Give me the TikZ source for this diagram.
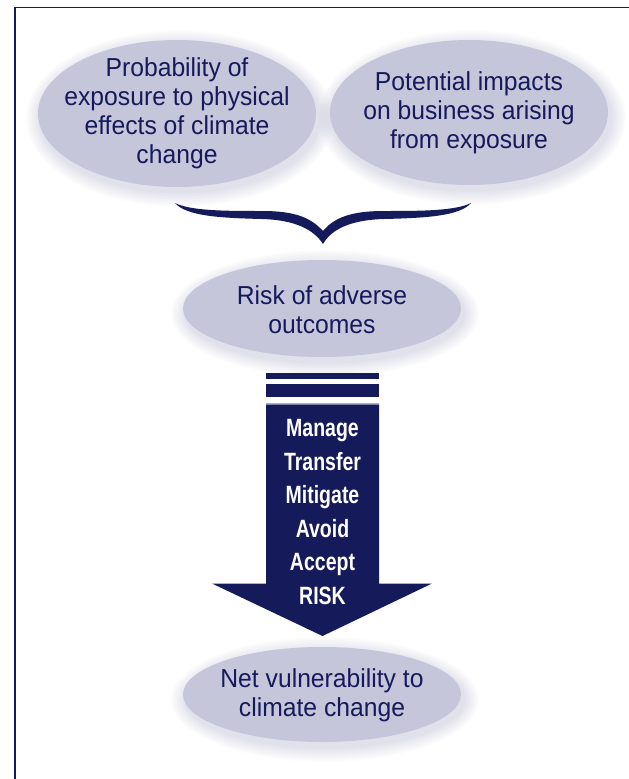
\documentclass[tikz,border=0pt]{standalone}
\usepackage{fontspec}
\setmainfont{Liberation Sans}
\newfontfamily\ellfont[FakeStretch=0.95]{Liberation Sans}
\newfontfamily\arrfont[FakeStretch=0.78]{Liberation Sans Bold}
\definecolor{navy}{HTML}{151A5B}
\definecolor{ellfill}{HTML}{C5C6DA}
\tikzset{
  bubtext/.style={inner sep=0pt, text=navy, align=center,
    font=\ellfont\fontsize{26}{29}\selectfont},
  frameline/.style={draw=navy, line width=1.4pt},
  armtext/.style={text=white, align=center, font=\arrfont\fontsize{25}{33.5}\selectfont}
}
\newcommand{\bubble}[4]{%
  \foreach \k in {1,...,10}{
    \fill[navy, opacity=0.012] (#1+3,#2+5) ellipse[x radius={#3+\k*1.5}, y radius={#4+\k*1.5}];
  }
  \fill[ellfill] (#1,#2) ellipse[x radius=#3, y radius=#4];}
\begin{document}
\begin{tikzpicture}[x=1pt,y=-1pt]
\useasboundingbox (0,0) rectangle (629,779);
\fill[white] (0,0) rectangle (629,779);
% frame
\draw[frameline] (15,779) -- (15,7.3) -- (629,7.3);
% ellipses
\bubble{177}{113.5}{139}{73.5}
\bubble{469}{112.5}{139}{72.5}
\bubble{322}{308.5}{139}{48.5}
\bubble{322}{694.5}{139}{47.5}
\node[bubtext] (prob) at (177,113.5)
  {Probability of\\exposure to physical\\effects of climate\\change};
\node[bubtext] (impact) at (469,112.5)
  {Potential impacts\\on business arising\\from exposure};
\node[bubtext] (risk) at (322,309.5)
  {Risk of adverse\\outcomes};
\node[bubtext] (net) at (322,695.5)
  {Net vulnerability to\\climate change};
% brace
\fill[navy] (175,203) .. controls (186,216) and (220,218) .. (262,219)
  .. controls (296,220) and (314,230) .. (323,244)
  .. controls (331,230) and (349,220) .. (384,219)
  .. controls (426,218) and (460,216) .. (471,203)
  .. controls (455,211) and (420,211) .. (384,211)
  .. controls (350,211) and (334,218) .. (323,231)
  .. controls (311,218) and (296,211) .. (262,211)
  .. controls (226,211) and (191,211) .. (175,203) -- cycle;
% bars
\fill[navy] (266,372.7) rectangle (379,379);
\fill[navy] (266,384) rectangle (379,396.7);
% arrow
\fill[navy] (266,403.5) -- (379,403.5) -- (379,583.5) -- (432,583.5) -- (322.5,636)
  -- (212,583.5) -- (266,583.5) -- cycle;
\draw[ellfill!60!navy, line width=0.6pt] (266,403.8) -- (379,403.8);
\node[armtext] (acts) at (322.5,512) {Manage\\Transfer\\Mitigate\\Avoid\\Accept\\RISK};
\end{tikzpicture}
\end{document}
